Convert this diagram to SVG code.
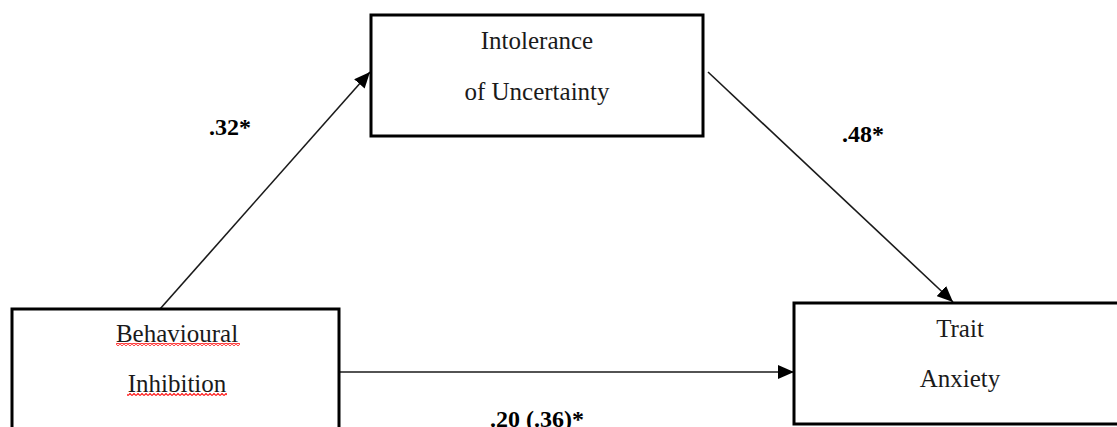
<svg xmlns="http://www.w3.org/2000/svg" width="1117" height="427" viewBox="0 0 1117 427">
  <style>
    .box { fill: #ffffff; stroke: #000000; stroke-width: 3; }
    .lbl { font-family: "Liberation Serif", "Times New Roman", serif; font-size: 25px; fill: #1a1a1a; text-anchor: middle; }
    .coef { font-family: "Liberation Serif", "Times New Roman", serif; font-size: 24px; font-weight: bold; fill: #000000; text-anchor: middle; }
    .conn { stroke: #1a1a1a; stroke-width: 1.6; fill: none; }
    .wave { fill: url(#squiggle); }
  </style>
  <defs>
    <marker id="arrowL" viewBox="0 0 16 14" refX="16" refY="7" markerWidth="16" markerHeight="14" markerUnits="userSpaceOnUse" orient="auto">
      <path d="M0,0 L16,7 L0,14 z" fill="#000000"/>
    </marker>
    <pattern id="squiggle" x="0" y="0" width="4" height="3" patternUnits="userSpaceOnUse">
      <path d="M0,2.5 L2,0.5 L4,2.5" stroke="#ff1a1a" stroke-width="1.2" fill="none"/>
    </pattern>
  </defs>

  <g id="connectors">
    <line class="conn" x1="160" y1="309" x2="370" y2="72" marker-end="url(#arrowL)"/>
    <line class="conn" x1="708" y1="72" x2="953" y2="302" marker-end="url(#arrowL)"/>
    <line class="conn" x1="340" y1="372" x2="794" y2="372" marker-end="url(#arrowL)"/>
  </g>

  <g id="node-iu">
    <rect class="box" x="371" y="15" width="332" height="121"/>
    <text class="lbl" x="537" y="49">Intolerance</text>
    <text class="lbl" x="537" y="100">of Uncertainty</text>
  </g>

  <g id="node-bi">
    <rect class="box" x="12" y="309" width="327" height="130"/>
    <text class="lbl" x="177" y="342">Behavioural</text>
    <rect class="wave" x="116" y="343" width="124" height="3"/>
    <text class="lbl" x="177" y="392">Inhibition</text>
    <rect class="wave" x="127" y="393" width="100" height="3"/>
  </g>

  <g id="node-ta">
    <rect class="box" x="794" y="303" width="340" height="121"/>
    <text class="lbl" x="960" y="337">Trait</text>
    <text class="lbl" x="960" y="387">Anxiety</text>
  </g>

  <g id="labels">
    <text class="coef" x="230" y="135">.32*</text>
    <text class="coef" x="863" y="142">.48*</text>
    <text class="coef" x="537" y="427">.20 (.36)*</text>
  </g>
</svg>
